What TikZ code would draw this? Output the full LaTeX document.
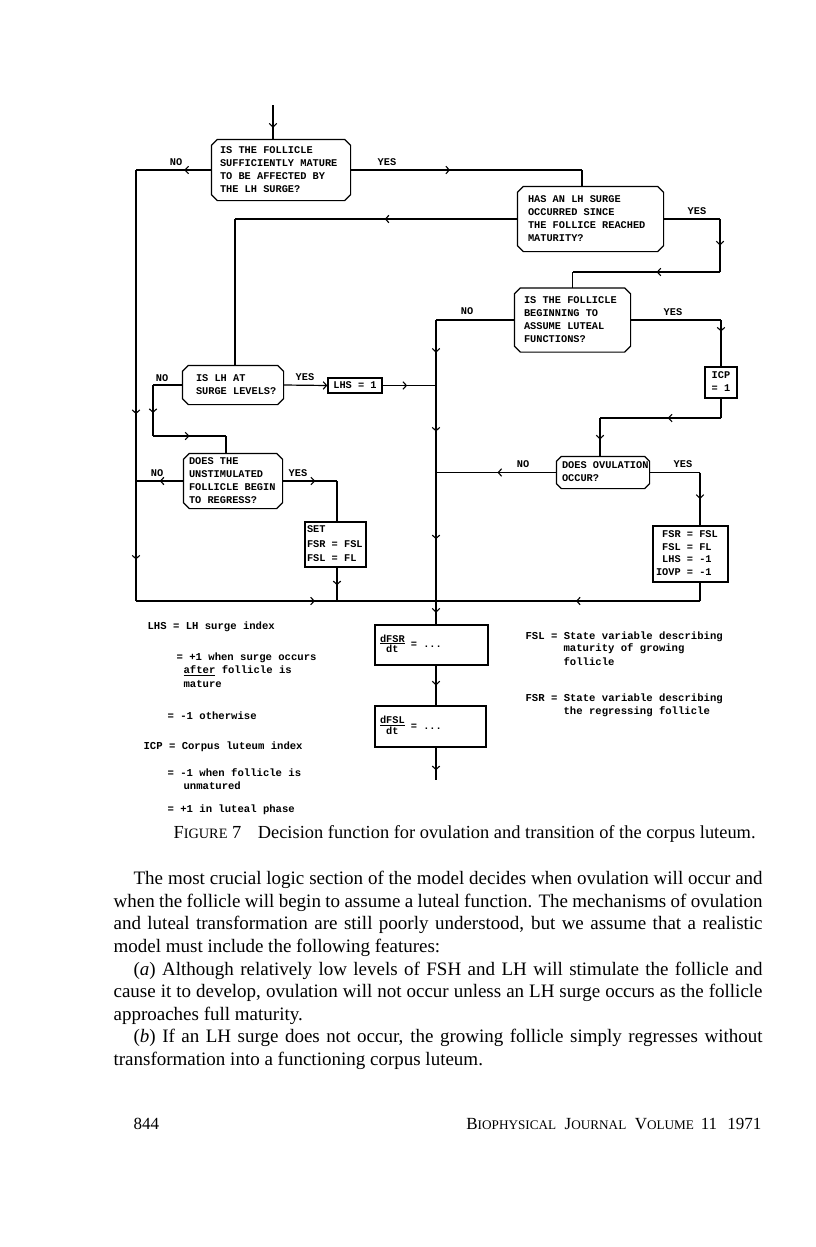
\documentclass[tikz,border=0pt]{standalone}
\usepackage{fontspec}
\setmainfont{Liberation Serif}
\setmonofont{Liberation Mono}
\usetikzlibrary{arrows.meta,decorations.markings}
\newcommand\bx[2]{\makebox[#1][l]{\begin{tabular}{@{}l@{}}#2\end{tabular}}}
\newcommand\fsc[1]{{\fontsize{14.3pt}{14pt}\selectfont #1}}
\newcommand\fscf[1]{{\fontsize{13.2pt}{13pt}\selectfont #1}}
\newcommand\octo[2][6pt]{\draw[line width=1.2pt] ([xshift=#1]#2.north west) -- ([xshift=-#1]#2.north east) -- ([yshift=-#1]#2.north east) -- ([yshift=#1]#2.south east) -- ([xshift=-#1]#2.south east) -- ([xshift=#1]#2.south west) -- ([yshift=#1]#2.south west) -- ([yshift=-#1]#2.north west) -- cycle;}
\begin{document}
\begin{tikzpicture}[x=1pt,y=-1pt,line width=1.2pt,
  tw/.style={font=\fontsize{10.3}{13}\selectfont\ttfamily\bfseries},
  dec/.style={tw, inner ysep=0pt, draw=none},
  pbox/.style={tw, draw, line width=1.2pt, inner ysep=0pt},
  lab/.style={tw, inner sep=0pt},
  leg/.style={font=\fontsize{10.6}{13}\selectfont\ttfamily\bfseries, anchor=west, inner sep=0pt},
  bodytxt/.style={font=\fontsize{19}{22}\selectfont, anchor=west, inner sep=0pt},
  captxt/.style={font=\fontsize{18.4}{20}\selectfont, anchor=west, inner sep=0pt},
  foottxt/.style={font=\fontsize{17}{20}\selectfont, inner sep=0pt},
  am/.style={postaction={decorate,decoration={markings,mark=at position #1 with {\arrow{Straight Barb[length=3.5pt,width=7.5pt,line width=1.1pt]}}}}},
  endtip/.style={-{Straight Barb[length=3.5pt,width=7.5pt,line width=1.1pt]}}
]
\useasboundingbox (0,0) rectangle (816,1247);
\fill[white] (0,0) rectangle (816,1247);

% decision boxes
\node[dec, inner xsep=8pt, minimum width=138pt, minimum height=60pt] (b1) at (281,170)
  {\bx{122pt}{IS THE FOLLICLE\\SUFFICIENTLY MATURE\\TO BE AFFECTED BY\\THE LH SURGE?}};
\node[dec, inner xsep=10pt, minimum width=145pt, minimum height=64pt] (b2) at (590.5,219)
  {\bx{125pt}{HAS AN LH SURGE\\OCCURRED SINCE\\THE FOLLICE REACHED\\MATURITY?}};
\node[dec, inner xsep=9pt, minimum width=115pt, minimum height=63pt] (b3) at (572.5,320)
  {\bx{97pt}{IS THE FOLLICLE\\BEGINNING TO\\ASSUME LUTEAL\\FUNCTIONS?}};
\node[dec, inner xsep=13pt, minimum width=100pt, minimum height=38pt] (b4) at (233,385)
  {\bx{74pt}{IS LH AT\\SURGE LEVELS?}};
\node[dec, inner xsep=5pt, minimum width=98pt, minimum height=54pt] (b5) at (233,481)
  {\bx{88pt}{DOES THE\\UNSTIMULATED\\FOLLICLE BEGIN\\TO REGRESS?}};
\node[dec, inner xsep=5pt, minimum width=92pt, minimum height=31pt] (b6) at (603,472.5)
  {\bx{82pt}{DOES OVULATION\\OCCUR?}};
\octo{b1}\octo{b2}\octo{b3}\octo{b4}\octo{b5}\octo[5pt]{b6}

% process boxes
\node[pbox, inner xsep=0pt, minimum width=32pt, minimum height=31pt] (icp) at (721,382.5)
  {\begin{tabular}{@{}c@{}}ICP\\= 1\end{tabular}};
\node[pbox, inner xsep=0pt, minimum width=54pt, minimum height=15pt] (lhs) at (355,385.5) {LHS = 1};
\node[pbox, inner xsep=2pt, minimum width=61pt, minimum height=45pt, font=\fontsize{10.3}{14.5}\selectfont\ttfamily\bfseries] (set) at (335.5,544.5)
  {\bx{57pt}{SET\\FSR = FSL\\FSL = FL}};
\node[pbox, inner xsep=3pt, minimum width=75pt, minimum height=56pt, font=\fontsize{10.3}{12.7}\selectfont\ttfamily\bfseries] (f7) at (690.5,554)
  {\makebox[69pt][l]{\begin{tabular}{@{}r@{ = }l@{}}FSR&FSL\\FSL&FL\\LHS&-1\\IOVP&-1\end{tabular}}};
\node[pbox, inner xsep=5pt, minimum width=113pt, minimum height=40pt] (dfsr) at (431.5,645)
  {\makebox[103pt][l]{\begin{tabular}[c]{@{}c@{}}dFSR\\[-3pt]\hline dt\end{tabular} = ...}};
\node[pbox, inner xsep=5pt, minimum width=111pt, minimum height=41pt] (dfsl) at (430.5,726.5)
  {\makebox[101pt][l]{\begin{tabular}[c]{@{}c@{}}dFSL\\[-3pt]\hline dt\end{tabular} = ...}};

% coordinates
\coordinate (in) at (273,105);
\coordinate (L1) at (136,170);
\coordinate (L2) at (136,481);
\coordinate (BL) at (136,601);
\coordinate (S2) at (337,601);
\coordinate (J)  at (436,601);
\coordinate (R1) at (582,170);
\coordinate (W2) at (235,219);
\coordinate (E2) at (720,219);
\coordinate (E3) at (720,272);
\coordinate (E4) at (572.5,272);
\coordinate (T1) at (436,320);
\coordinate (T2) at (436,385.5);
\coordinate (T3) at (436,472.5);
\coordinate (Y3) at (721,320);
\coordinate (I1) at (721,418);
\coordinate (I2) at (600,418);
\coordinate (Y6) at (700,472.5);
\coordinate (F8) at (700,601);
\coordinate (N1) at (153,385);
\coordinate (N2) at (153,436);
\coordinate (N3) at (226,436);
\coordinate (Y5) at (337,481);
\coordinate (fin) at (436,780);

% connectors
\draw[am=0.66] (in) -- (in |- b1.north);
\draw[am=0.36] (b1.west) -- (L1);
\draw[am=0.785] (L1) -- (L2);
\draw[am=0.655] (L2) -- (BL);
\draw[am=0.89] (BL) -- (S2);
\draw (S2) -- (J);
\draw[am=0.43] (b1.east) -- (R1);
\draw (R1) -- (R1 |- b2.north);
\draw[am=0.47] (b2.west) -- (W2);
\draw (W2) -- (W2 |- b4.north);
\draw (b2.east) -- (E2);
\draw[am=0.5] (E2) -- (E3);
\draw[am=0.43] (E3) -- (E4);
\draw (E4) -- (E4 |- b3.north);
\draw (b3.west) -- (T1);
\draw[am=0.5] (T1) -- (T2);
\draw[am=0.53] (T2) -- (T3);
\draw[am=0.52] (T3) -- (J);
\draw[am=0.5] (J) -- (J |- dfsr.north);
\draw (b3.east) -- (Y3);
\draw[am=0.25] (Y3) -- (icp.north);
\draw (icp.south) -- (I1);
\draw[am=0.44] (I1) -- (I2);
\draw[am=0.56] (I2) -- (I2 |- b6.north);
\draw[am=0.49] (b6.west) -- (T3);
\draw (b6.east) -- (Y6);
\draw[am=0.5] (Y6) -- (Y6 |- f7.north);
\draw (Y6 |- f7.south) -- (F8);
\draw[am=0.47] (F8) -- (J);
\draw[endtip] (b4.east) -- (lhs.west);
\draw[am=0.46] (lhs.east) -- (T2);
\draw (b4.west) -- (N1);
\draw[am=0.55] (N1) -- (N2);
\draw[am=0.5] (N2) -- (N3);
\draw (N3) -- (N3 |- b5.north);
\draw[am=0.5] (b5.west) -- (L2);
\draw[am=0.6] (b5.east) -- (Y5);
\draw (Y5) -- (Y5 |- set.north);
\draw[am=0.53] (Y5 |- set.south) -- (S2);
\draw[am=0.5] (J |- dfsr.south) -- (J |- dfsl.north);
\draw[am=0.7] (J |- dfsl.south) -- (fin);

% labels
\node[lab] (no1) at (176,162) {NO};
\node[lab] (yes1) at (387,162) {YES};
\node[lab] (yes2) at (697,211) {YES};
\node[lab] (no3) at (467,311) {NO};
\node[lab] (yes3) at (673,312) {YES};
\node[lab] (no4) at (162,378) {NO};
\node[lab] (yes4) at (305,377) {YES};
\node[lab] (no5) at (157,473) {NO};
\node[lab] (yes5) at (298,473) {YES};
\node[lab] (no6) at (523,464) {NO};
\node[lab] (yes6) at (683,464) {YES};

% legend
\node[leg] (lg1) at (147,627) {LHS = LH surge index};
\node[leg] (lg2) at (176,658) {= +1 when surge occurs};
\node[leg] (lg3) at (183,671) {\underline{after} follicle is};
\node[leg] (lg4) at (183,684) {mature};
\node[leg] (lg5) at (167,716) {= -1 otherwise};
\node[leg] (lg6) at (143,747) {ICP = Corpus luteum index};
\node[leg] (lg7) at (167,773) {= -1 when follicle is};
\node[leg] (lg8) at (183,786) {unmatured};
\node[leg] (lg9) at (167,810) {= +1 in luteal phase};
\node[leg] (rg1) at (525,637) {FSL = State variable describing};
\node[leg] (rg2) at (563,649) {maturity of growing};
\node[leg] (rg3) at (563,662) {follicle};
\node[leg] (rg4) at (525,699) {FSR = State variable describing};
\node[leg] (rg5) at (563,712) {the regressing follicle};

% caption
\node[captxt] (caption) at (173,834) {F\fsc{IGURE}~7\hspace{0.9em}Decision function for ovulation and transition of the corpus luteum.};

% body text
\node[bodytxt] (t1) at (133,880) {\makebox[629pt][s]{The most crucial logic section of the model decides when ovulation will occur and}};
\node[bodytxt] (t2) at (113,902.6) {\makebox[649pt][s]{when the follicle will begin to assume a luteal function. The mechanisms of ovulation}};
\node[bodytxt] (t3) at (113,925.2) {\makebox[649pt][s]{and luteal transformation are still poorly understood, but we assume that a realistic}};
\node[bodytxt] (t4) at (113,947.8) {model must include the following features:};
\node[bodytxt] (t5) at (133,970.4) {\makebox[629pt][s]{(\textit{a}) Although relatively low levels of FSH and LH will stimulate the follicle and}};
\node[bodytxt] (t6) at (113,993) {\makebox[649pt][s]{cause it to develop, ovulation will not occur unless an LH surge occurs as the follicle}};
\node[bodytxt] (t7) at (113,1015.6) {approaches full maturity.};
\node[bodytxt] (t8) at (133,1038.2) {\makebox[629pt][s]{(\textit{b}) If an LH surge does not occur, the growing follicle simply regresses without}};
\node[bodytxt] (t9) at (113,1060.8) {transformation into a functioning corpus luteum.};

% footer
\node[foottxt, anchor=west] (pg) at (133,1124) {844};
\node[foottxt, anchor=east] (jr) at (762,1124) {B\fscf{IOPHYSICAL}\hspace{0.5em}J\fscf{OURNAL}\hspace{0.5em}V\fscf{OLUME}\hspace{0.4em}11\hspace{0.6em}1971};
\end{tikzpicture}
\end{document}
